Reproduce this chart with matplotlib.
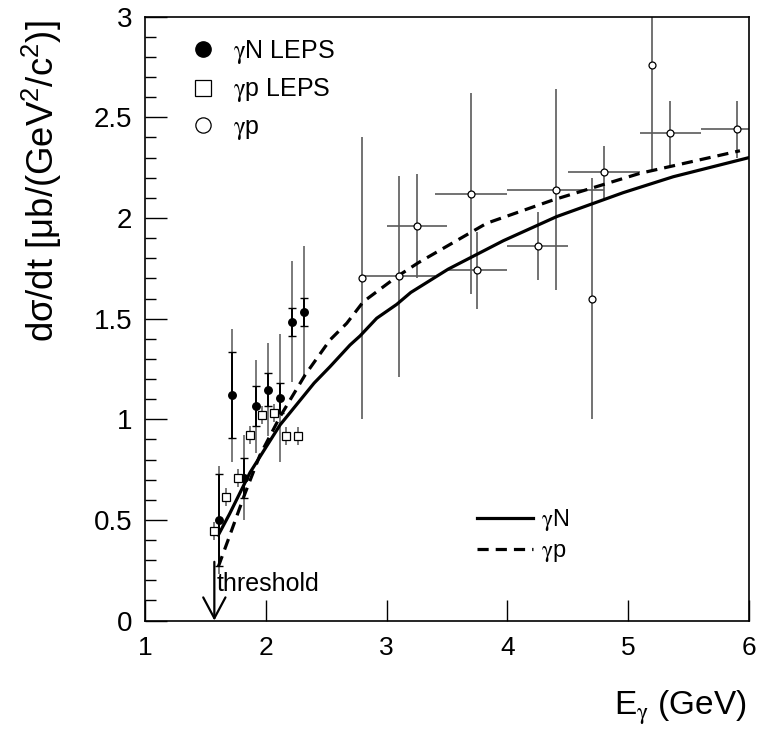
import matplotlib
matplotlib.use("Agg")
import matplotlib.pyplot as plt
import matplotlib.ticker as mticker
from matplotlib.lines import Line2D

plt.rcParams["font.family"] = ["Liberation Sans", "DejaVu Sans"]
plt.rcParams["mathtext.fontset"] = "custom"
plt.rcParams["mathtext.rm"] = "Liberation Sans"
plt.rcParams["mathtext.it"] = "Liberation Sans"
plt.rcParams["mathtext.sf"] = "STIXGeneral"  # symbol-like gamma

G = r"$\mathsf{\gamma}$"

# gamma N LEPS (filled circles): total and statistical errors
gn_x = [1.615, 1.720, 1.820, 1.919, 2.018, 2.118, 2.217, 2.319]
gn_y = [0.50, 1.12, 0.71, 1.065, 1.148, 1.106, 1.484, 1.533]
gn_tot = [0.27, 0.33, 0.21, 0.23, 0.23, 0.32, 0.30, 0.33]
gn_stat = [0.23, 0.215, 0.10, 0.10, 0.08, 0.075, 0.07, 0.07]

# gamma p LEPS (open squares)
gpl_x = [1.571, 1.671, 1.772, 1.869, 1.966, 2.068, 2.167, 2.269]
gpl_y = [0.447, 0.613, 0.709, 0.92, 1.023, 1.032, 0.916, 0.916]
gpl_err = [0.045, 0.045, 0.045, 0.045, 0.045, 0.045, 0.045, 0.045]

# gamma p older data (open circles)
gp_x = [2.8, 3.1, 3.25, 3.75, 3.7, 4.25, 4.4, 4.7, 4.8, 5.2, 5.35, 5.9]
gp_y = [1.70, 1.71, 1.96, 1.74, 2.12, 1.86, 2.14, 1.60, 2.23, 2.76, 2.42, 2.44]
gp_yerr = [0.70, 0.50, 0.26, 0.19, 0.50, 0.17, 0.50, 0.60, 0.13, 0.53, 0.16, 0.14]
gp_xerr = [0, 0.3, 0.25, 0.25, 0.3, 0.25, 0.4, 0, 0.3, 0, 0.25, 0.3]

# model curves
cN_x = [1.607, 1.70, 1.869, 2.0, 2.118, 2.4, 2.531, 2.697, 2.78, 2.918, 3.084,
        3.2, 3.51, 3.966, 4.408, 4.959, 5.373, 6.0]
cN_y = [0.425, 0.53, 0.735, 0.86, 0.972, 1.18, 1.261, 1.369, 1.414, 1.502, 1.571,
        1.63, 1.746, 1.887, 2.007, 2.126, 2.205, 2.30]
cp_x = [1.607, 1.70, 1.828, 1.95, 2.118, 2.325, 2.531, 2.67, 2.807, 3.084, 3.263,
        3.829, 4.38, 5.098, 5.925]
cp_y = [0.268, 0.42, 0.632, 0.82, 1.013, 1.22, 1.394, 1.477, 1.584, 1.708, 1.778,
        1.974, 2.09, 2.222, 2.334]

threshold = 1.574

fig = plt.figure(figsize=(7.57, 7.32), dpi=100)
ax = fig.add_axes([145 / 757, 1 - 620.6 / 732, 604 / 757, 603.9 / 732])

grey = "#707070"
# error bars
ax.errorbar(gn_x, gn_y, yerr=gn_tot, fmt="none", ecolor=grey, elinewidth=1.3, zorder=2)
ax.errorbar(gn_x, gn_y, yerr=gn_stat, fmt="none", ecolor="black", elinewidth=1.4,
            capsize=2.8, capthick=1.0, zorder=2)
ax.errorbar(gpl_x, gpl_y, yerr=gpl_err, fmt="none", ecolor=grey, elinewidth=1.3, zorder=2)
ax.errorbar(gp_x, gp_y, yerr=gp_yerr, xerr=gp_xerr, fmt="none", ecolor="#5a5a5a",
            elinewidth=1.2, zorder=2)

# curves
ax.plot(cN_x, cN_y, color="black", lw=2.3, zorder=3)
ax.plot(cp_x, cp_y, color="black", lw=2.3, dashes=(3.5, 2.2), zorder=3)

# markers
ax.plot(gn_x, gn_y, "o", color="black", ms=5.4, zorder=4)
ax.plot(gpl_x, gpl_y, "s", mfc="white", mec="black", mew=0.9, ms=5.8, zorder=4)
ax.plot(gp_x, gp_y, "o", mfc="white", mec="black", mew=0.9, ms=5.0, zorder=4)

# threshold arrow
ax.annotate("", xy=(threshold, 0), xytext=(threshold, 0.292),
            arrowprops=dict(arrowstyle="->,head_length=0.75,head_width=0.4",
                            lw=1.6, color="black", mutation_scale=20,
                            shrinkA=0, shrinkB=0), zorder=5)
ax.text(threshold + 0.018, 0.149, "threshold", fontsize=18, ha="left", va="baseline")

# legends
h1 = [Line2D([], [], ls="none", marker="o", color="black", ms=11),
      Line2D([], [], ls="none", marker="s", mfc="white", mec="black", mew=0.9, ms=11),
      Line2D([], [], ls="none", marker="o", mfc="white", mec="black", mew=0.9, ms=11)]
leg1 = ax.legend(h1, [G + "N LEPS", G + "p LEPS", G + "p"], loc="upper left",
                 bbox_to_anchor=(0.0712, 0.965), frameon=False, fontsize=18,
                 handlelength=1.2, handletextpad=0.6, labelspacing=0.42,
                 borderpad=0, borderaxespad=0)
ax.add_artist(leg1)
h2 = [Line2D([], [], color="black", lw=2.3),
      Line2D([], [], color="black", lw=2.3, dashes=(3.5, 2.2))]
ax.legend(h2, [G + "N", G + "p"], loc="upper left", bbox_to_anchor=(0.549, 0.188),
          frameon=False, fontsize=17, handlelength=2.4, handletextpad=0.34,
          labelspacing=0.3, borderpad=0, borderaxespad=0)

ax.set_xlim(1, 6)
ax.set_ylim(0, 3)
ax.xaxis.set_major_locator(mticker.MultipleLocator(1))
ax.yaxis.set_major_locator(mticker.MultipleLocator(0.5))
ax.yaxis.set_minor_locator(mticker.MultipleLocator(0.1))
ax.yaxis.set_major_formatter(mticker.FormatStrFormatter("%g"))
ax.tick_params(axis="x", which="major", direction="in", length=15, width=1.0,
               labelsize=19, pad=11, top=False)
ax.tick_params(axis="y", which="major", direction="in", length=16, width=1.0,
               labelsize=20, pad=9, right=False)
ax.tick_params(axis="y", which="minor", direction="in", length=7.7, width=1.0,
               right=False)
for s in ax.spines.values():
    s.set_linewidth(1.2)

fig.text(747 / 757, 1 - 715 / 732, r"E$\mathregular{_{\mathsf{\gamma}}}$ (GeV)",
         fontsize=24, ha="right", va="baseline")
fig.text(42 / 757, 1 - 20 / 732,
         r"dσ/dt [μb/(GeV$\mathregular{^2}$/c$\mathregular{^2}$)]",
         fontsize=26.3, rotation=90, ha="center", va="top")

fig.savefig("out.png", dpi=100)
